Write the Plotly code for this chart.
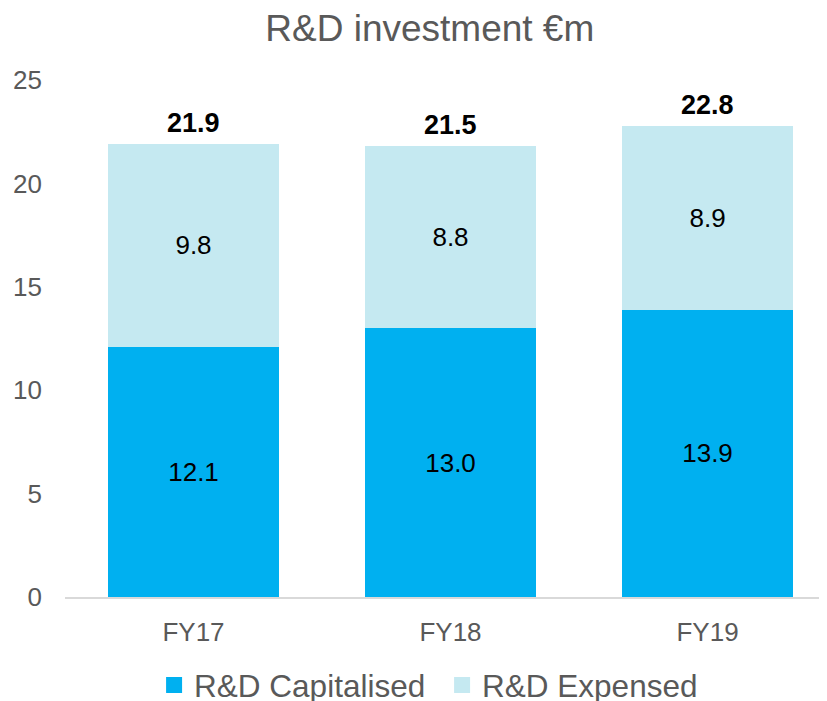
import plotly.graph_objects as go

categories = ["FY17", "FY18", "FY19"]
capitalised = [12.1, 13.0, 13.9]
expensed = [9.8, 8.8, 8.9]
total_labels = ["21.9", "21.5", "22.8"]
y_ticks = [0, 5, 10, 15, 20, 25]
series_names = ["R&D Capitalised", "R&D Expensed"]

c_cap = "#00B0F0"
c_exp = "#C5E9F1"
grey = "#595959"
font = "Liberation Sans, Arial, sans-serif"

fig = go.Figure()
for name, vals, col in zip(series_names, [capitalised, expensed], [c_cap, c_exp]):
    fig.add_trace(go.Bar(
        x=categories, y=vals, name=name, showlegend=False, legendgroup=name,
        marker=dict(color=col, line=dict(width=0)),
        text=[f"{v:.1f}" for v in vals], textposition="inside",
        insidetextanchor="middle", textfont=dict(color="black", size=26, family=font),
        width=0.665,
    ))
# legend-only entries with larger square swatches
for name, col in zip(series_names, [c_cap, c_exp]):
    fig.add_trace(go.Scatter(
        x=[None], y=[None], mode="markers", name=name, legendgroup=name,
        marker=dict(symbol="square", size=18, color=col),
    ))

for cat, a, b, lab in zip(categories, capitalised, expensed, total_labels):
    fig.add_annotation(x=cat, y=a + b, text=f"<b>{lab}</b>", showarrow=False,
                       yanchor="bottom", yshift=4,
                       font=dict(color="black", size=27, family=font))

fig.update_layout(
    barmode="stack",
    width=827, height=701,
    paper_bgcolor="white", plot_bgcolor="white",
    margin=dict(l=57, r=0, t=72, b=112),
    title=dict(text="R&D investment €m", x=0.51, xanchor="center",
               y=1 - 20 / 701, yanchor="middle",
               font=dict(size=37, color=grey, family=font)),
    showlegend=True,
    legend=dict(orientation="h", x=(413 - 8) / 827, xanchor="center",
                yref="container", y=1 - 677 / 701, yanchor="middle",
                font=dict(size=31.5, color=grey, family=font),
                traceorder="normal", itemwidth=30,
                entrywidth=243, entrywidthmode="pixels"),
)
fig.update_xaxes(range=[-0.5, 2.496], showline=True, linecolor="#D9D9D9", linewidth=2,
                 ticks="", tickfont=dict(size=26, color=grey, family=font),
                 ticklabelstandoff=11, showgrid=False)
fig.update_yaxes(range=[0, 25], tickvals=y_ticks, showgrid=False, zeroline=False,
                 showline=False, ticks="", tickfont=dict(size=26, color=grey, family=font),
                 ticklabelstandoff=22)

fig.write_html("out.html")
